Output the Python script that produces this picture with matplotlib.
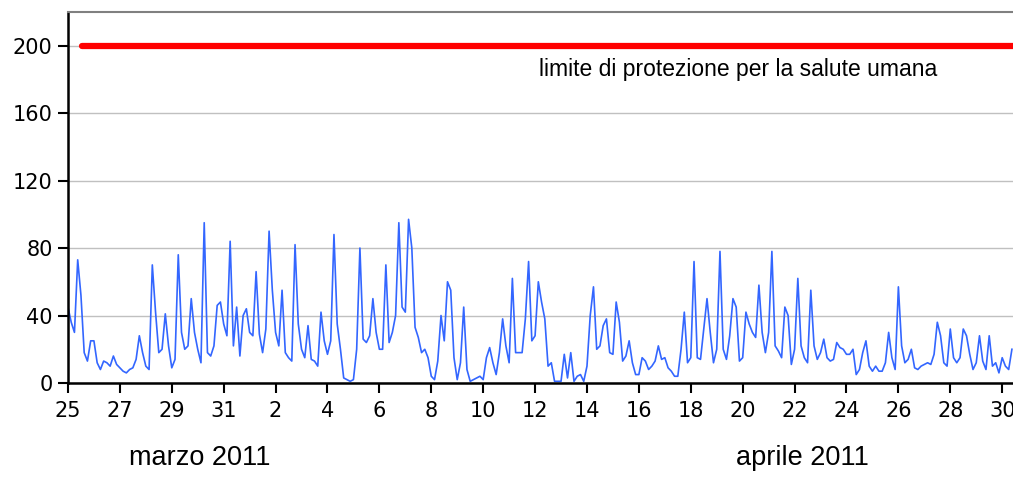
import matplotlib
matplotlib.use("Agg")
import matplotlib.pyplot as plt
import pandas as pd

# NO2 concentration, one value every 3 hours from 25 March 2011 00:00
no2 = [
    45, 36, 30, 73, 52, 18, 13, 25,   # 25 mar
    25, 12, 8, 13, 12, 10, 16, 11,    # 26
    9, 7, 6, 8, 9, 14, 28, 18,        # 27
    10, 8, 70, 42, 18, 20, 41, 22,    # 28
    9, 14, 76, 30, 20, 22, 50, 30,    # 29
    20, 12, 95, 18, 16, 22, 46, 48,   # 30
    35, 28, 84, 22, 45, 16, 40, 44,   # 31
    30, 28, 66, 29, 18, 32, 90, 55,   # 1 apr
    30, 22, 55, 18, 15, 13, 82, 35,   # 2
    20, 15, 34, 14, 13, 10, 42, 25,   # 3
    17, 25, 88, 35, 20, 3, 2, 1,      # 4
    2, 20, 80, 26, 24, 28, 50, 30,    # 5
    20, 20, 70, 24, 30, 40, 95, 45,   # 6
    42, 97, 80, 33, 27, 18, 20, 15,   # 7
    4, 2, 13, 40, 25, 60, 55, 15,     # 8
    2, 12, 45, 8, 1, 2, 3, 4,         # 9
    2, 15, 21, 12, 5, 18, 38, 22,     # 10
    12, 62, 18, 18, 18, 38, 72, 25,   # 11
    28, 60, 48, 38, 10, 12, 1, 1,     # 12
    1, 17, 3, 18, 1, 4, 5, 1,         # 13
    10, 40, 57, 20, 22, 34, 38, 18,   # 14
    17, 48, 36, 13, 16, 25, 12, 5,    # 15
    5, 15, 13, 8, 10, 13, 22, 14,     # 16
    15, 9, 7, 4, 4, 20, 42, 12,       # 17
    15, 72, 15, 14, 32, 50, 30, 12,   # 18
    20, 78, 20, 14, 28, 50, 45, 13,   # 19
    15, 42, 35, 30, 27, 58, 30, 18,   # 20
    30, 78, 22, 19, 15, 45, 40, 11,   # 21
    20, 62, 22, 15, 12, 55, 22, 14,   # 22
    18, 26, 15, 13, 14, 24, 21, 20,   # 23
    17, 17, 20, 5, 8, 18, 25, 10,     # 24
    7, 10, 7, 7, 12, 30, 15, 8,       # 25
    57, 22, 12, 14, 20, 9, 8, 10,     # 26
    11, 12, 11, 17, 36, 28, 12, 10,   # 27
    32, 15, 12, 15, 32, 28, 17, 8,    # 28
    12, 28, 13, 8, 28, 10, 12, 6,     # 29
    15, 10, 8, 20,                    # 30
]
start = "2011-03-25"
limit_value = 200
limit_start = "2011-03-25 13:00"
limit_label = "limite di protezione per la salute umana"
month_labels = ["marzo 2011", "aprile 2011"]
y_ticks = [0, 40, 80, 120, 160, 200]

times = pd.date_range(start, periods=len(no2), freq="3h")
tick_dates = pd.date_range(start, "2011-04-30", freq="2D")
x_end = pd.Timestamp("2011-04-30 10:00")

fig = plt.figure(figsize=(10.13, 4.79), dpi=100)
ax = fig.add_axes([0.0671, 0.2004, 0.9329, 0.775])

ax.plot([pd.Timestamp(limit_start), x_end], [limit_value, limit_value],
        color="#ff0000", lw=4.5, solid_capstyle="round", zorder=3)
ax.plot(times, no2, color="#3366ff", lw=1.2, zorder=2)

ax.set_ylim(0, 220)
ax.set_xlim(pd.Timestamp(start), x_end)
ax.set_yticks(y_ticks)
ax.set_xticks(tick_dates)
ax.set_xticklabels([str(d.day) for d in tick_dates])
ax.yaxis.grid(True, color="#c0c0c0", lw=1)
ax.set_axisbelow(True)

for lab in ax.get_xticklabels() + ax.get_yticklabels():
    lab.set_fontfamily("DejaVu Sans")
    lab.set_fontsize(15)
ax.tick_params(axis="both", direction="out", length=7, width=1.5, color="black")
ax.tick_params(axis="x", pad=6)
ax.tick_params(axis="y", pad=4)

ax.spines["right"].set_visible(False)
ax.spines["top"].set_color("#808080")
ax.spines["top"].set_linewidth(1.5)
for s in ("left", "bottom"):
    ax.spines[s].set_color("black")
    ax.spines[s].set_linewidth(1.8)

ax.text(pd.Timestamp("2011-04-12 04:00"), 186, limit_label,
        fontfamily="Liberation Sans", fontsize=16.5, ha="left", va="center")

fig.text(200 / 1013, 1 - 458 / 479, month_labels[0],
         fontfamily="Liberation Sans", fontsize=19.5, ha="center", va="center")
fig.text(802 / 1013, 1 - 458 / 479, month_labels[1],
         fontfamily="Liberation Sans", fontsize=19.5, ha="center", va="center")

fig.savefig("out.png", dpi=100)
